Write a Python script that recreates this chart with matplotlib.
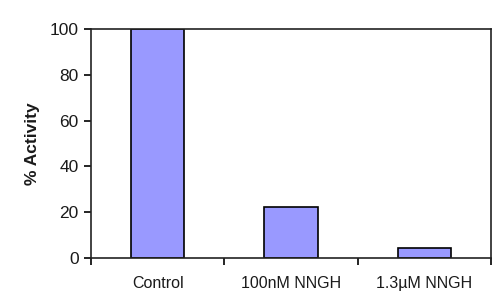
import matplotlib
matplotlib.use('Agg')
from matplotlib import pyplot as plt

categories = ['Control', '100nM NNGH', '1.3\u00b5M NNGH']
activity = [100, 22.4, 4.5]
yticks = [0, 20, 40, 60, 80, 100]

plt.rcParams['font.family'] = ['Liberation Sans', 'DejaVu Sans']

fig = plt.figure(figsize=(5, 3.06), dpi=100)
ax = fig.add_axes([0.182, 0.157, 0.8, 0.748])

x = list(range(len(categories)))
ax.bar(x, activity, width=0.4, color='#9999ff', edgecolor='black', linewidth=1.2)

ax.set_xlim(-0.5, len(categories) - 0.5)
ax.set_ylim(0, 100)
ax.set_yticks(yticks)
ax.set_yticklabels([str(v) for v in yticks], fontsize=12.5, color='#1a1a1a')

ax.set_xticks(x)
ax.set_xticklabels(categories, fontsize=11.5, color='#1a1a1a')
ax.tick_params(axis='x', which='major', length=0, pad=13)
ax.set_xticks([i - 0.5 for i in range(len(categories) + 1)], minor=True)
ax.tick_params(axis='x', which='minor', length=5, width=1.2, direction='out')
ax.tick_params(axis='y', length=5, width=1.2, direction='out', pad=4)

for s in ax.spines.values():
    s.set_linewidth(1.2)
    s.set_color('#222222')

ax.set_ylabel('% Activity', fontsize=12.5, fontweight='bold', color='#1a1a1a', labelpad=7)

fig.savefig('out.png', dpi=100)
